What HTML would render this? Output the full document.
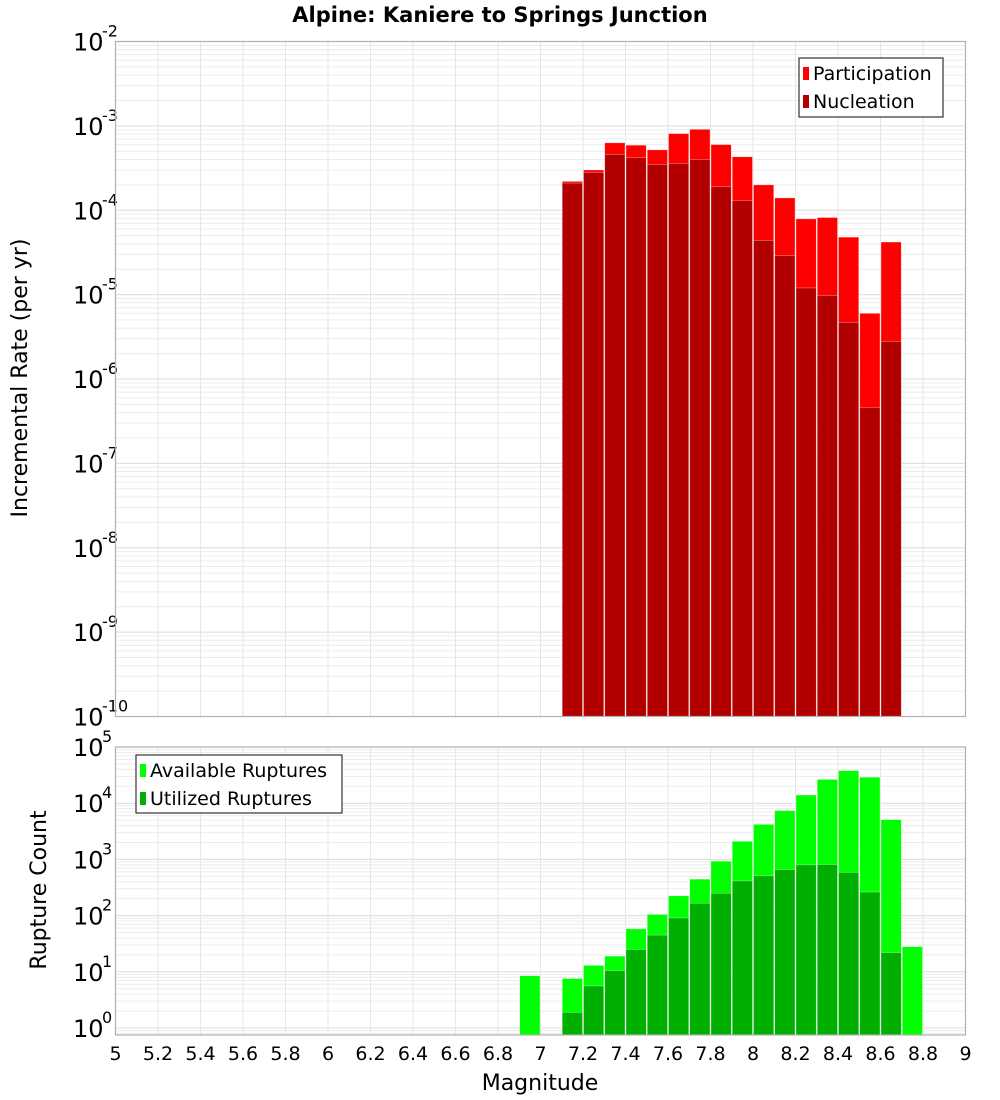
<!DOCTYPE html>
<html><head><meta charset="utf-8"><style>
html,body{margin:0;padding:0;background:#fff;}
svg{display:block;font-family:"DejaVu Sans","Liberation Sans",sans-serif;}
</style></head><body>
<svg id="chart" width="1000" height="1100" viewBox="0 0 1000 1100">
<text x="500" y="22" text-anchor="middle" font-weight="bold" font-size="21">Alpine: Kaniere to Springs Junction</text>
<g id="top"></g>
<g id="bot"></g>
<text transform="translate(27,378) rotate(-90)" text-anchor="middle" font-size="22">Incremental Rate (per yr)</text>
<text transform="translate(46,890) rotate(-90)" text-anchor="middle" font-size="22">Rupture Count</text>
<text x="540" y="1090" text-anchor="middle" font-size="22">Magnitude</text>
</svg>
<script>
const mags = [6.95,7.15,7.25,7.35,7.45,7.55,7.65,7.75,7.85,7.95,8.05,8.15,8.25,8.35,8.45,8.55,8.65,8.75];
const participation = [0,2.2e-4,3.0e-4,6.3e-4,5.9e-4,5.2e-4,8.1e-4,9.1e-4,6.0e-4,4.3e-4,2.0e-4,1.4e-4,7.9e-5,8.2e-5,4.8e-5,6.0e-6,4.2e-5,0];
const nucleation = [0,2.1e-4,2.8e-4,4.6e-4,4.2e-4,3.5e-4,3.6e-4,4.0e-4,1.9e-4,1.3e-4,4.4e-5,2.9e-5,1.2e-5,9.8e-6,4.7e-6,4.6e-7,2.8e-6,0];
const available = [8.5,7.6,13,19,58,105,225,445,930,2100,4200,7400,14000,26500,38000,29000,5100,28];
const utilized = [0,1.9,5.6,10.5,25,45,91,166,250,415,510,660,800,810,590,263,22,0];
const xTicks = [5,5.2,5.4,5.6,5.8,6,6.2,6.4,6.6,6.8,7,7.2,7.4,7.6,7.8,8,8.2,8.4,8.6,8.8,9];
const topExps = [-10,-9,-8,-7,-6,-5,-4,-3,-2];
const botExps = [0,1,2,3,4,5];

const NS="http://www.w3.org/2000/svg";
const X0=115.5,X1=965.5;
const xs=m=>X0+(m-5)/4*(X1-X0);
function mk(tag,attrs,parent){const e=document.createElementNS(NS,tag);for(const k in attrs)e.setAttribute(k,attrs[k]);parent.appendChild(e);return e;}

function panel(g,top,bottom,ysc,minE,maxE,exps,labelsFirst){
  mk('rect',{x:X0,y:top,width:X1-X0,height:bottom-top,fill:'#fff'},g);
  for(let e=minE;e<=maxE;e++){for(let k=1;k<10;k++){const y=ysc(k*Math.pow(10,e));if(y<top||y>bottom)continue;
    const l=mk('line',{x1:X0,x2:X1,y1:y,y2:y,stroke:k===1?'#dcdcdc':'#ececec','stroke-width':1},g);
    
    }}
  xTicks.forEach(t=>{const x=xs(t);
    const l=mk('line',{x1:x,x2:x,y1:top,y2:bottom,stroke:'#e6e6e6','stroke-width':1},g);
    
    });
  exps.forEach(e=>{const y=ysc(Math.pow(10,e));
    const t=mk('text',{x:73,y:y+9,'font-size':24},g);
    
    
    t.textContent='10';
    const s=mk('text',{x:102,y:y-5,'font-size':16},g);
    
    
    s.textContent=String(e);});
}
function bars(g,vals,ysc,bottom,color,name){
  const w=(X1-X0)/40;
  vals.forEach((v,i)=>{if(!(v>0))return;const y=ysc(v);const x=xs(mags[i])-w/2;
    const r=mk('rect',{x:x+0.5,y:y,width:w-1,height:bottom-y,fill:color,stroke:'#ffffff','stroke-opacity':0.5,'stroke-width':0.6},g);
    
    });
}
function legend(g,x,y,w,h,items){
  const b=mk('rect',{x:x,y:y,width:w,height:h,fill:'#fff',stroke:'#333','stroke-width':1.2},g);
  
  
  items.forEach((it,i)=>{const yy=y+15+i*28;
    const s=mk('rect',{x:x+4,y:yy-6,width:6,height:13,fill:it[1]},g);
    
    
    const t=mk('text',{x:x+14,y:yy+7,'font-size':19},g);
    
    
    t.textContent=it[0];});
}
// top panel
const gT=document.getElementById('top');
const T0=41.5,T1=716.5;
const ysT=v=>T0+(-2-Math.log10(v))/8*(T1-T0);
panel(gT,T0,T1,ysT,-10,-3,topExps);
bars(gT,participation,ysT,T1,'#ff0000','participation');
bars(gT,nucleation,ysT,T1,'#b20000','nucleation');
mk('rect',{x:X0,y:T0,width:X1-X0,height:T1-T0,fill:'none',stroke:'#b0b0b0','stroke-width':1.2},gT);
legend(gT,799,58,144,59,[['Participation','#ff0000'],['Nucleation','#b20000']]);
// bottom panel
const gB=document.getElementById('bot');
const B0=747,B1=1035,BZ=1028,BD=56.2;
const ysB=v=>BZ-Math.log10(v)*BD;
panel(gB,B0,B1,ysB,-1,4,botExps);
bars(gB,available,ysB,B1,'#00ff00','available');
bars(gB,utilized,ysB,B1,'#00b000','utilized');
mk('rect',{x:X0,y:B0,width:X1-X0,height:B1-B0,fill:'none',stroke:'#b0b0b0','stroke-width':1.2},gB);
legend(gB,136,755,206,58,[['Available Ruptures','#00ff00'],['Utilized Ruptures','#00b000']]);
xTicks.forEach(t=>{
  const tx=mk('text',{x:xs(t),y:1060,'text-anchor':'middle','font-size':19},gB);
  
  
  tx.textContent=String(t);});
</script>
</body></html>
